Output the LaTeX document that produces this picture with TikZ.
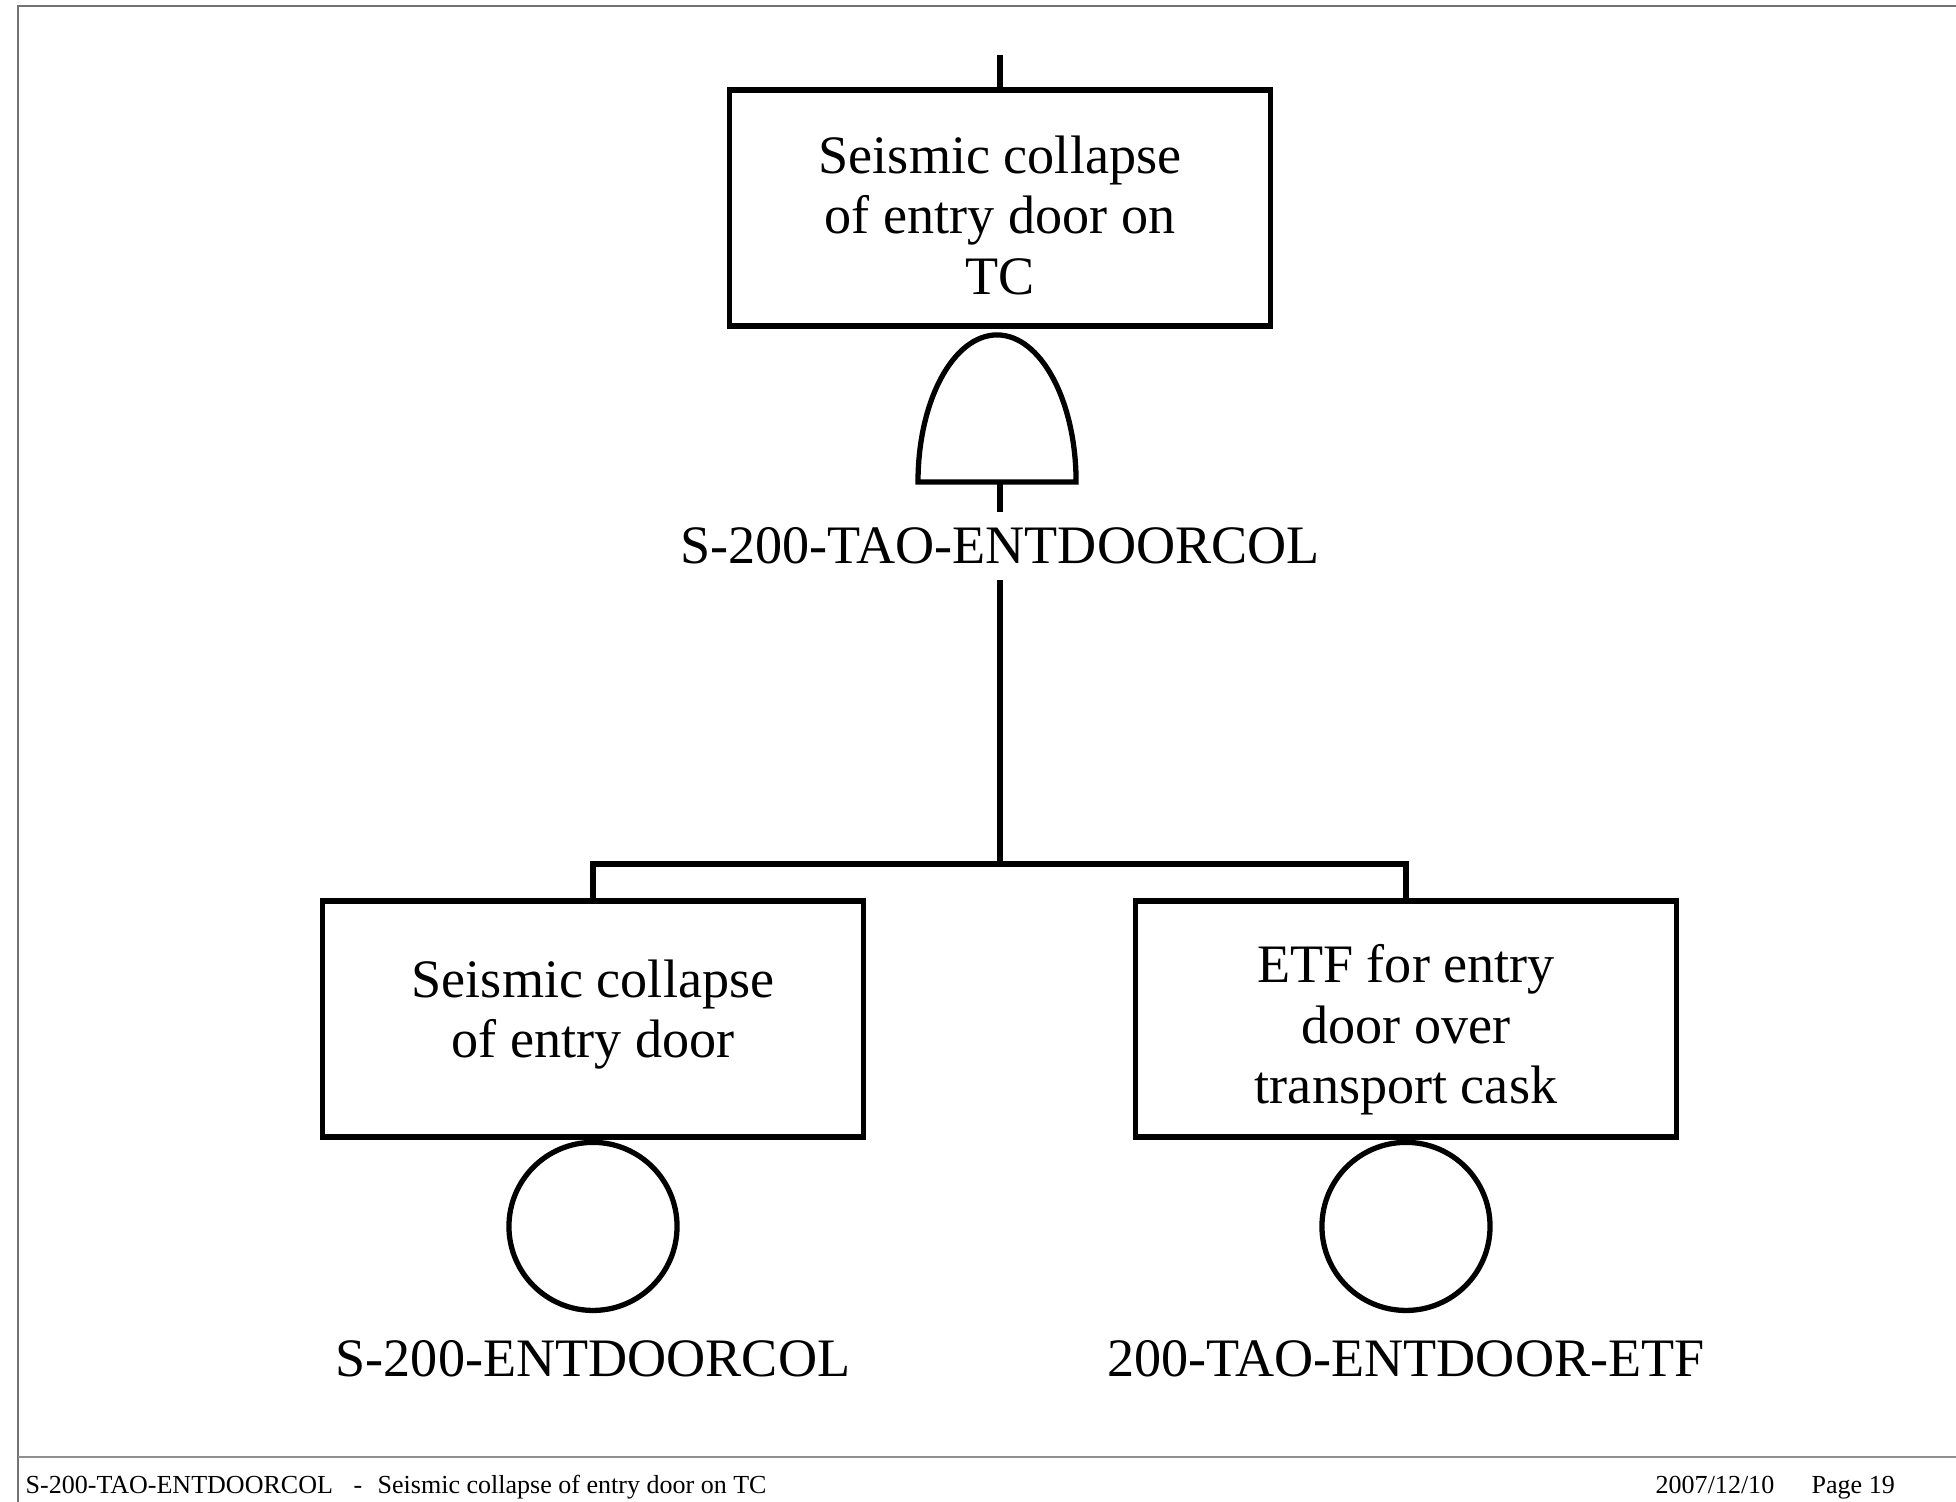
\documentclass[tikz,border=0pt]{standalone}
\usepackage{fontspec}
\setmainfont{Liberation Serif}
\usetikzlibrary{positioning}

\begin{document}
\begin{tikzpicture}[x=0.01cm, y=0.01cm,
    evbox/.style={draw, line width=1.5pt, minimum width=5.40cm, minimum height=2.36cm, inner sep=0pt},
    evtext/.style={inner sep=0pt, align=center, font=\fontsize{15.4}{17.2}\selectfont},
    basic/.style={draw, circle, line width=1.5pt, minimum size=1.68cm, inner sep=0pt},
    evname/.style={inner xsep=0pt, inner ysep=0.15cm, font=\fontsize{15.4}{16.8}\selectfont},
    wire/.style={line width=1.5pt},
    footer/.style={inner sep=0pt, anchor=base west, font=\fontsize{7.4}{8.5}\selectfont}]

    %my colors
    \definecolor{framegray}{rgb}{0.45, 0.45, 0.45}

    % page size and frame
    \useasboundingbox (0,0) rectangle (1956,-1502);
    \draw[framegray, line width=0.6pt] (18,-1502) -- (18,-6) -- (1956,-6);
    \draw[framegray!80, line width=0.6pt] (18,-1457) -- (1956,-1457);

    % top event
    \node[evbox] (top) at (1000,-208) {};
    \node[evtext, yshift=-0.07cm] (toptext) at (top) {Seismic collapse\\of entry door on\\TC};
    \coordinate (topin) at (1000,-55);
    \draw[wire] (topin) -- (top.north);

    % AND gate under the top event
    \coordinate (andbase) at (997,-482);
    \draw[wire] (918,-482) arc[start angle=180, end angle=0, x radius=0.79cm, y radius=1.47cm] -- cycle;
    \node[evname] (gate) at (1000,-546) {S-200-TAO-ENTDOORCOL};
    \draw[wire] (andbase -| gate.north) -- (gate.north);

    % the two inputs
    \node[evbox] (lbox) at (593,-1019) {};
    \node[evtext, yshift=0.045cm] (ltext) at (lbox) {Seismic collapse\\of entry door};
    \node[evbox] (rbox) at (1406,-1019) {};
    \node[evtext, yshift=-0.11cm] (rtext) at (rbox) {ETF for entry\\door over\\transport cask};
    \coordinate (split) at (1000,-864);
    \draw[wire] (gate.south) -- (split);
    \draw[wire] (lbox.north) |- (split) -| (rbox.north);

    % basic events
    \node[basic, below=0pt of lbox] (lbasic) {};
    \node[basic, below=0pt of rbox] (rbasic) {};
    \node[evname, inner ysep=0pt, below=0.27cm of lbasic] (lname) {S-200-ENTDOORCOL};
    \node[evname, inner ysep=0pt, below=0.27cm of rbasic] (rname) {200-TAO-ENTDOOR-ETF};

    % footer
    \node[footer] (fid) at (25,-1493) {S-200-TAO-ENTDOORCOL};
    \node[footer] (fdash) at (353,-1493) {-};
    \node[footer] (ftitle) at (377,-1493) {Seismic collapse of entry door on TC};
    \node[footer] (fdate) at (1655,-1493) {2007/12/10};
    \node[footer] (fpage) at (1811,-1493) {Page 19};

\end{tikzpicture}
\end{document}
